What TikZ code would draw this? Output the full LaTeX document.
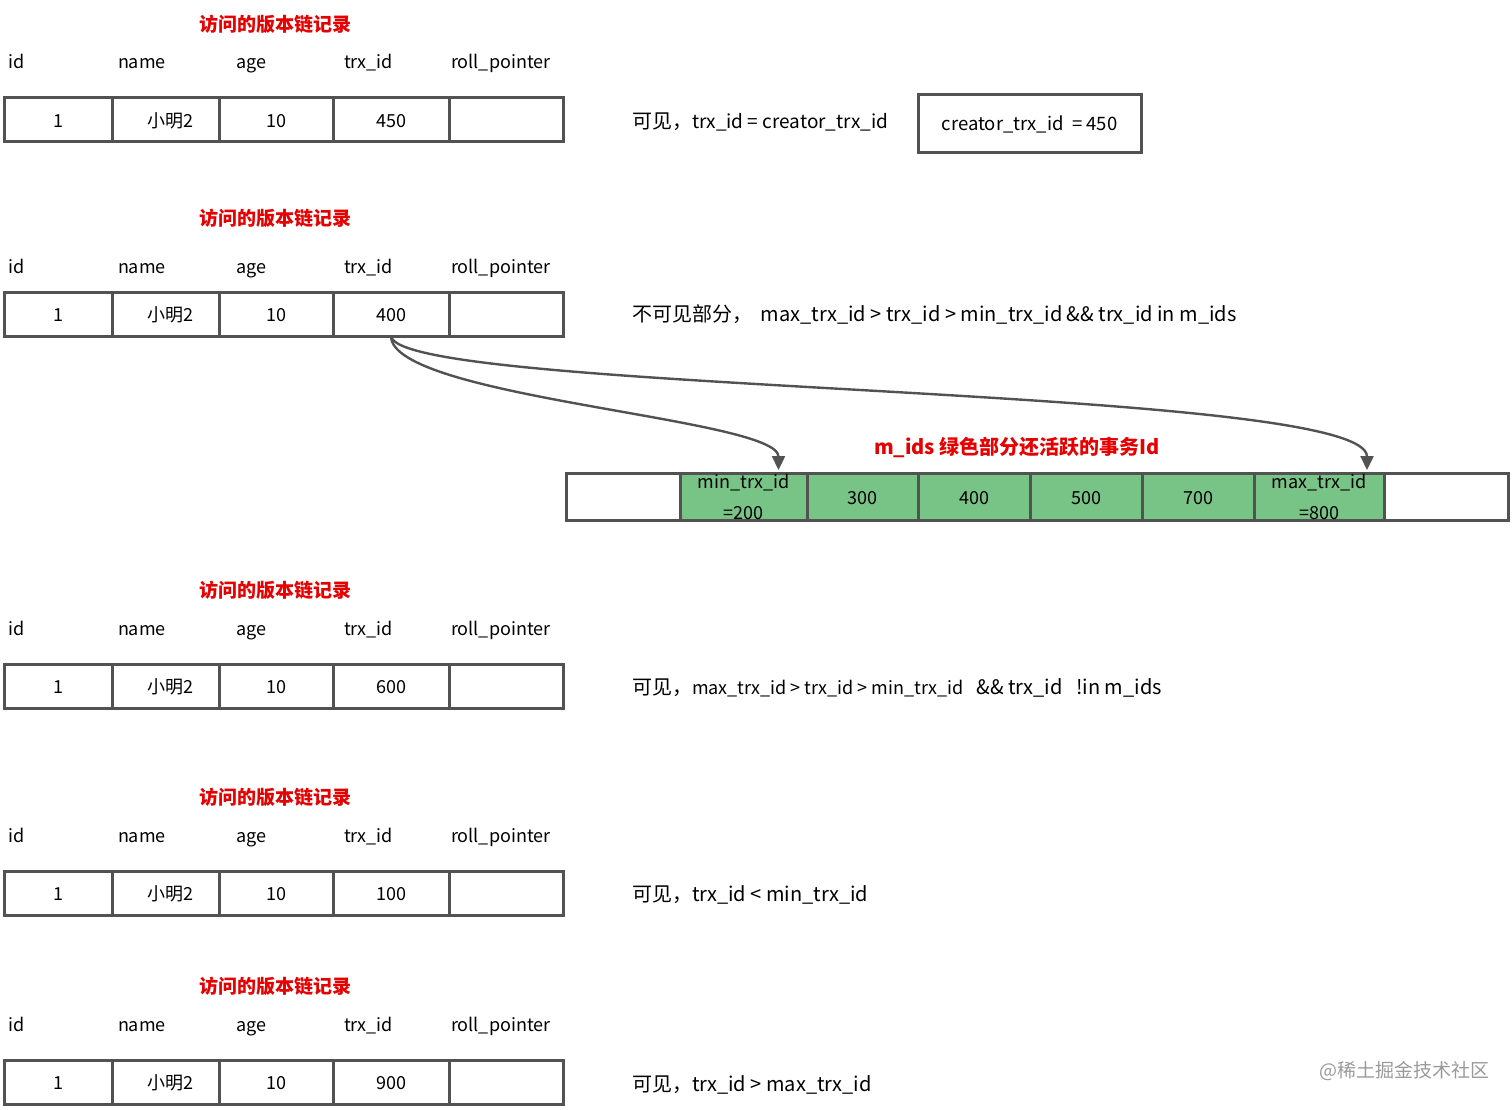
\documentclass[tikz,border=0pt]{standalone}
\usepackage{fontspec}
\setmainfont{Noto Sans CJK SC}
\usepackage{xcolor}
\usepackage{tikz}
\usetikzlibrary{positioning,arrows.meta}
\definecolor{cellLine}{HTML}{525252}
\definecolor{titleRed}{HTML}{E60000}
\definecolor{activeGreen}{HTML}{78C386}
\definecolor{markGray}{HTML}{9A9A9A}

\begin{document}
\begin{tikzpicture}[
    x=1pt, y=-1pt,
    every node/.style={font=\fontsize{18}{22}\selectfont, inner sep=0pt, outer sep=0pt},
    title/.style={font=\fontsize{19}{22}\selectfont\bfseries, text=titleRed},
    head/.style={anchor=base west},
    box/.style={draw=cellLine, line width=3pt},
    cell/.style={box, minimum height=44pt, text height=15pt, text depth=0pt},
    idcell/.style={cell, minimum height=47pt},
    green/.style={idcell, fill=activeGreen},
    bound/.style={box, minimum height=47pt, fill=activeGreen, align=center, font=\fontsize{18}{31}\selectfont},
    note/.style={anchor=base west, font=\fontsize{20}{24}\selectfont},
    link/.style={draw=cellLine, line width=2.4pt, -{Triangle[length=14pt,width=13pt]}},
]
  \useasboundingbox (0,0) rectangle (1512,1110);
  % record rows: name / top of cells / header baseline / trx_id value
  \foreach \n/\top/\hy/\trx in {a/98/62/450, b/292/266/400, c/664/628/600, d/871/835/100, e/1060/1024/900}{
    \node[title] (title-\n) at (275,\top-74) {访问的版本链记录};
    \node[head] (hid-\n) at (9,\hy+7) {id};
    \node[head] (hname-\n) at (118,\hy+7) {name};
    \node[head] (hage-\n) at (236,\hy+7) {age};
    \node[head] (htrx-\n) at (344,\hy+7) {trx\_id};
    \node[head] (hroll-\n) at (451,\hy+7) {roll\_pointer};
    \node[cell, anchor=north west, minimum width=108pt] (cid-\n) at (4,\top) {1};
    \node[cell, minimum width=107pt, right=0pt of cid-\n] (cname-\n) {\hspace{10pt}小明2};
    \node[cell, minimum width=114pt, right=0pt of cname-\n] (cage-\n) {10};
    \node[cell, minimum width=116pt, right=0pt of cage-\n] (ctrx-\n) {\trx};
    \node[cell, minimum width=114pt, right=0pt of ctrx-\n] (croll-\n) {};
  }
  % visibility notes
  \node[note] (note-a) at (632,129) {可见，{\fontsize{19}{22}\selectfont trx\_id = creator\_trx\_id}};
  \node[box, minimum width=223pt, minimum height=58pt, font=\fontsize{18.5}{22}\selectfont]
    (creator) at (1029.5,124) {creator\_trx\_id~~= 450};
  \node[note] (note-b) at (632,321) {不可见部分，~~max\_trx\_id > trx\_id > min\_trx\_id \&\& trx\_id in m\_ids};
  \node[note] (note-c) at (632,694) {可见，{\fontsize{18}{20}\selectfont max\_trx\_id > trx\_id > min\_trx\_id}~~~\&\& trx\_id~~~!in m\_ids};
  \node[note] (note-d) at (632,901) {可见，trx\_id < min\_trx\_id};
  \node[note] (note-e) at (632,1091) {可见，trx\_id > max\_trx\_id};
  % m_ids array
  \node[title, font=\fontsize{20}{24}\selectfont\bfseries] (ids-title) at (1017,447) {m\_ids 绿色部分还活跃的事务Id};
  \node[idcell, anchor=north west, minimum width=114pt] (ids-lo) at (566,473) {};
  \node[bound, minimum width=127pt, right=0pt of ids-lo] (ids-min) {min\_trx\_id\\=200};
  \node[green, minimum width=111pt, right=0pt of ids-min] (ids-300) {300};
  \node[green, minimum width=112pt, right=0pt of ids-300] (ids-400) {400};
  \node[green, minimum width=112pt, right=0pt of ids-400] (ids-500) {500};
  \node[green, minimum width=112pt, right=0pt of ids-500] (ids-700) {700};
  \node[bound, minimum width=130pt, right=0pt of ids-700] (ids-max) {max\_trx\_id\\=800};
  \node[idcell, minimum width=124pt, right=0pt of ids-max] (ids-hi) {};
  % links from trx_id 400 to the bounds
  \draw[link] (ctrx-b.south) .. controls +(0,62) and +(0,-52) .. ([xshift=35pt,yshift=3pt]ids-min.north);
  \draw[link] (ctrx-b.south) .. controls +(6,58) and +(0,-85) .. ([xshift=48pt,yshift=3pt]ids-max.north);
  % watermark
  \node[font=\fontsize{19}{22}\selectfont, text=markGray] (mark) at (1404,1071) {@稀土掘金技术社区};
\end{tikzpicture}
\end{document}
